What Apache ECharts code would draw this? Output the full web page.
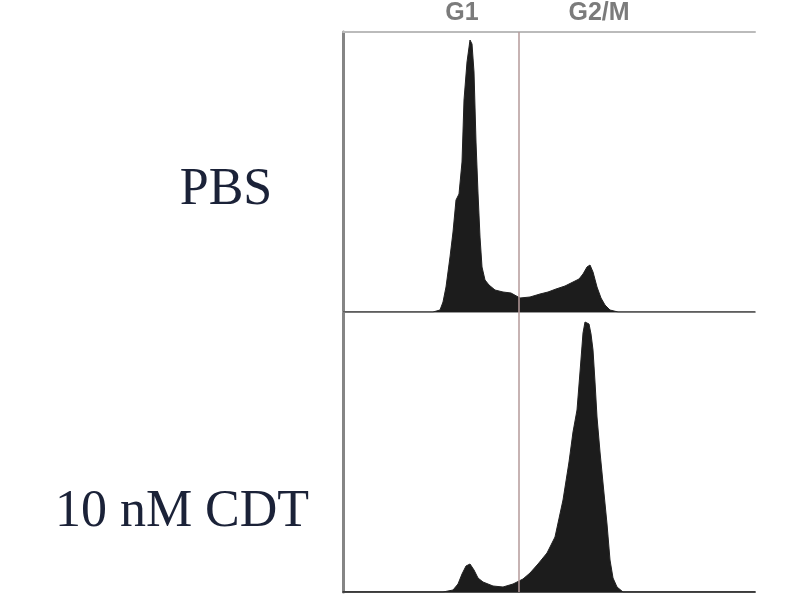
<!DOCTYPE html>
<html><head><meta charset="utf-8">
<script src="https://cdn.jsdelivr.net/npm/echarts@6/dist/echarts.min.js"></script>
<style>html,body{margin:0;padding:0;background:#fff}#c{width:803px;height:610px}</style>
</head><body><div id="c"></div>
<script>
// DNA content channel vs cell count
const rowLabels = ['PBS', '10 nM CDT'];
const phaseLabels = [{name:'G1', ch:119}, {name:'G2/M', ch:256}];
const gateChannel = 176;
const pbsHist = [[0,0],[90,0],[97,2],[100,10],[103,25],[107,55],[110,80],[113,112],[116,118],[119,150],[121,212],[124,250],[127,272],[129,268],[131,240],[133,170],[135,119],[137,75],[139,45],[142,32],[146,27],[152,22],[160,20],[168,19],[177,14],[187,15],[197,18],[205,20],[213,23],[222,26],[230,30],[236,33],[240,38],[244,45],[247,47],[250,40],[254,25],[258,14],[262,7],[267,2],[275,0],[412,0]];
const cdtHist = [[0,0],[100,0],[110,2],[115,8],[119,18],[123,26],[127,28],[131,22],[135,14],[140,10],[150,6],[160,5],[170,8],[180,13],[187,19],[195,28],[204,39],[212,55],[220,92],[226,130],[230,160],[234,182],[237,220],[240,259],[242,270],[244,272],[246,268],[248,258],[250,242],[252,210],[254,175],[257,140],[260,109],[264,68],[267,32],[270,14],[274,5],[280,0],[412,0]];

const chart = echarts.init(document.getElementById('c'));
const xBase = {type:'value', min:0, max:412, axisLabel:{show:false}, axisTick:{show:false}, splitLine:{show:false}};
const yBase = {type:'value', min:0, max:280, axisLabel:{show:false}, axisTick:{show:false}, splitLine:{show:false},
  axisLine:{show:true, lineStyle:{color:'#858585', width:3}}};
function series(data, idx){
  return {type:'line', xAxisIndex:idx, yAxisIndex:idx, data:data, symbol:'none', smooth:false,
    lineStyle:{color:'#222', width:1}, areaStyle:{color:'#1c1c1c', opacity:1},
    markLine:{silent:true, symbol:'none', label:{show:false}, lineStyle:{color:'#b59a9a', width:1.5, type:'solid'}, data:[{xAxis:gateChannel}]}};
}
chart.setOption({
  animation:false,
  grid:[{left:343, top:32, width:412, height:280},{left:343, top:312, width:412, height:280}],
  xAxis:[
    Object.assign({}, xBase, {gridIndex:0, position:'bottom', axisLine:{show:true, onZero:false, lineStyle:{color:'#999', width:2}}}),
    Object.assign({}, xBase, {gridIndex:1, position:'bottom', axisLine:{show:true, onZero:false, lineStyle:{color:'#555', width:2}}}),
    Object.assign({}, xBase, {gridIndex:0, position:'top', axisLine:{show:true, onZero:false, lineStyle:{color:'#bbb', width:2}}})
  ],
  yAxis:[Object.assign({}, yBase, {gridIndex:0}), Object.assign({}, yBase, {gridIndex:1})],
  series:[
    series(pbsHist, 0),
    series(cdtHist, 1),
    {type:'scatter', xAxisIndex:2, yAxisIndex:0, symbolSize:0, data:phaseLabels.map(p=>[p.ch, 280]),
     label:{show:true, position:'top', distance:6, formatter:(p)=>phaseLabels[p.dataIndex].name,
       fontFamily:'Liberation Sans', fontSize:25, fontWeight:'bold', color:'#5a5a5a'}}
  ],
  graphic:[
    {type:'text', style:{text:rowLabels[0], x:226, y:190, align:'center', verticalAlign:'middle', font:'52px "Liberation Serif"', fill:'#1b2238'}},
    {type:'text', style:{text:rowLabels[1], x:182, y:512, align:'center', verticalAlign:'middle', font:'52px "Liberation Serif"', fill:'#1b2238'}}
  ]
});
</script></body></html>
